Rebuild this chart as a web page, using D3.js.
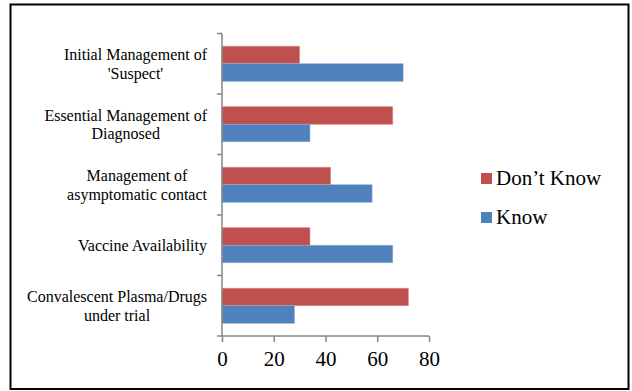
<!DOCTYPE html>
<html>
<head>
<meta charset="utf-8">
<script src="https://cdn.jsdelivr.net/npm/d3@7"></script>
<style>
  html, body { margin: 0; padding: 0; background: #fff; }
  svg { display: block; }
</style>
</head>
<body>
<svg id="chart" width="632" height="391"></svg>
<script>
// ---- Data ----
const categories = [
  ["Initial Management of", "'Suspect'"],
  ["Essential Management of", "Diagnosed"],
  ["Management of", "asymptomatic contact"],
  ["Vaccine Availability"],
  ["Convalescent Plasma/Drugs", "under trial"]
];
const seriesNames = ["Don\u2019t Know", "Know"];
const dontKnow = [30, 66, 42, 34, 72];
const know = [70, 34, 58, 66, 28];
const xTicks = [0, 20, 40, 60, 80];
const colors = ["#C0504D", "#4F81BD"];

const SERIF = '"Liberation Serif", "Times New Roman", Times, serif';

// ---- Layout ----
const svg = d3.select("#chart");
const plot = { left: 222, right: 429, top: 33.5, bottom: 336 };

svg.append("rect")
  .attr("x", 10.5).attr("y", 4.5).attr("width", 618).attr("height", 384.5)
  .attr("fill", "#fff").attr("stroke", "#000").attr("stroke-width", 2);

const x = d3.scaleLinear().domain([0, 80]).range([plot.left, plot.right]);
const keys = categories.map((c, i) => i);
const y = d3.scaleBand().domain(keys).range([plot.top, plot.bottom])
  .paddingInner(0.42).paddingOuter(0.21);
const ySub = d3.scaleBand().domain([0, 1]).range([0, y.bandwidth()]);

const seriesData = [dontKnow, know];

// bars
seriesData.forEach((vals, s) => {
  svg.append("g").selectAll("rect")
    .data(vals)
    .join("rect")
    .attr("x", x(0))
    .attr("y", (d, i) => y(i) + ySub(s))
    .attr("width", d => x(d) - x(0))
    .attr("height", ySub.bandwidth())
    .attr("fill", colors[s])
    .attr("stroke", s === 0 ? "#D98A88" : "#8FB0D8")
    .attr("stroke-width", 0.6);
});

// x axis
const xAxis = d3.axisBottom(x).tickValues(xTicks).tickSize(6).tickPadding(6)
  .tickFormat(d3.format("d"));
const gx = svg.append("g").attr("transform", `translate(0,${plot.bottom})`).call(xAxis);
gx.select(".domain").attr("stroke", "#868686").attr("stroke-width", 1.5)
  .attr("d", `M${plot.left - 5},0H${plot.right}`);
gx.selectAll(".tick line").attr("stroke", "#868686").attr("stroke-width", 1.5);
gx.selectAll(".tick text")
  .style("font-family", SERIF)
  .style("font-size", "21px").attr("fill", "#000").attr("dy", "0.88em");

// y axis (category boundaries ticks)
const gy = svg.append("g");
gy.append("line")
  .attr("x1", plot.left).attr("x2", plot.left)
  .attr("y1", plot.top).attr("y2", plot.bottom)
  .attr("stroke", "#868686").attr("stroke-width", 1.5);
const step = y.step();
const boundaries = d3.range(categories.length).map(i => y(i) - y.paddingOuter() * step);
gy.selectAll("line.tk").data(boundaries).join("line")
  .attr("class", "tk")
  .attr("x1", plot.left - 5).attr("x2", plot.left)
  .attr("y1", d => d).attr("y2", d => d)
  .attr("stroke", "#868686").attr("stroke-width", 1.5);

// category labels
const labelRight = 207;
const lineH = 18.3;
const lg = svg.append("g");
categories.forEach((lines, i) => {
  const cy = y(i) + y.bandwidth() / 2;
  const g = lg.append("g");
  const texts = lines.map((ln, j) => g.append("text")
    .style("font-family", SERIF)
    .style("font-size", "16px")
    .attr("fill", "#000")
    .attr("text-anchor", "middle")
    .attr("dy", "0.35em")
    .attr("y", cy + (j - (lines.length - 1) / 2) * lineH)
    .text(ln));
  const maxW = d3.max(texts, t => t.node().getComputedTextLength());
  texts.forEach(t => t.attr("x", labelRight - maxW / 2));
});

// legend
const legend = svg.append("g");
const legY = [185, 224];
seriesNames.forEach((name, s) => {
  legend.append("rect")
    .attr("x", 481).attr("y", legY[s] - 12).attr("width", 11).attr("height", 11)
    .attr("fill", colors[s]);
  legend.append("text")
    .attr("x", 496).attr("y", legY[s])
    .style("font-family", SERIF)
    .style("font-size", "21px")
    .attr("fill", "#000")
    .text(name);
});
</script>
</body>
</html>
